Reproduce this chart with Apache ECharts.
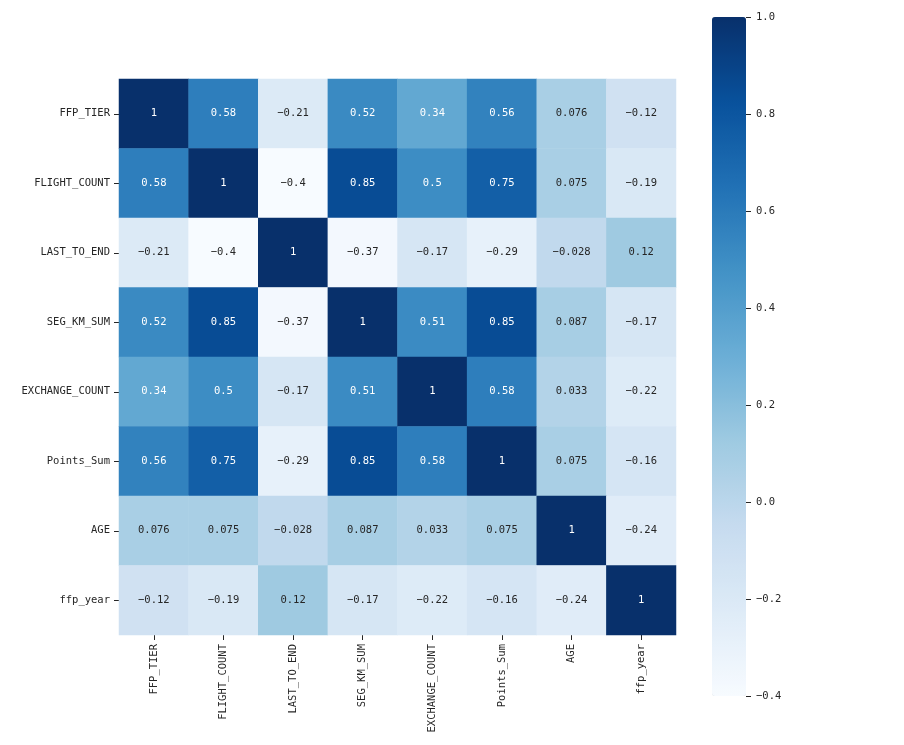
<!DOCTYPE html>
<html>
<head>
<meta charset="utf-8">
<script src="https://cdn.jsdelivr.net/npm/echarts@6/dist/echarts.min.js"></script>
<style>html,body{margin:0;padding:0;background:#fff;}#c{width:904px;height:745px;}</style>
</head>
<body>
<div id="c"></div>
<script>
var categories = ['FFP_TIER','FLIGHT_COUNT','LAST_TO_END','SEG_KM_SUM','EXCHANGE_COUNT','Points_Sum','AGE','ffp_year'];
var rowFFP_TIER      = [1, 0.58, -0.21, 0.52, 0.34, 0.56, 0.076, -0.12];
var rowFLIGHT_COUNT  = [0.58, 1, -0.4, 0.85, 0.5, 0.75, 0.075, -0.19];
var rowLAST_TO_END   = [-0.21, -0.4, 1, -0.37, -0.17, -0.29, -0.028, 0.12];
var rowSEG_KM_SUM    = [0.52, 0.85, -0.37, 1, 0.51, 0.85, 0.087, -0.17];
var rowEXCHANGE      = [0.34, 0.5, -0.17, 0.51, 1, 0.58, 0.033, -0.22];
var rowPoints_Sum    = [0.56, 0.75, -0.29, 0.85, 0.58, 1, 0.075, -0.16];
var rowAGE           = [0.076, 0.075, -0.028, 0.087, 0.033, 0.075, 1, -0.24];
var rowFfp_year      = [-0.12, -0.19, 0.12, -0.17, -0.22, -0.16, -0.24, 1];
var colorbarTicks = [-0.4, -0.2, 0.0, 0.2, 0.4, 0.6, 0.8, 1.0];

var rows = [rowFFP_TIER,rowFLIGHT_COUNT,rowLAST_TO_END,rowSEG_KM_SUM,rowEXCHANGE,rowPoints_Sum,rowAGE,rowFfp_year];
var blues = ['#f7fbff','#deebf7','#c6dbef','#9ecae1','#6baed6','#4292c6','#2171b5','#08519c','#08306b'];
var FONT = 'DejaVu Sans Mono';
function fmt(v){ var s = String(v); return s.replace('-', '\u2212'); }

var data = [];
rows.forEach(function(r, yi){
  r.forEach(function(v, xi){
    data.push({value:[xi, yi, v], label:{color: v >= 0.3 ? '#ffffff' : '#262626'}});
  });
});

var chart = echarts.init(document.getElementById('c'), null, {renderer:'canvas'});
chart.setOption({
  animation:false,
  backgroundColor:'#fff',
  grid:[
    {left:119, top:79, width:557, height:556, containLabel:false},
    {left:712, top:17, width:34, height:679, containLabel:false}
  ],
  xAxis:[
    {type:'category', data:categories, gridIndex:0, position:'bottom',
     axisLine:{show:false}, splitLine:{show:false},
     axisTick:{show:true, alignWithLabel:true, length:5, lineStyle:{color:'#262626'}},
     axisLabel:{rotate:90, fontFamily:FONT, fontSize:10.5, color:'#262626', margin:9}},
    {type:'value', gridIndex:1, show:false, min:0, max:1, axisLine:{onZero:false}}
  ],
  yAxis:[
    {type:'category', data:categories, gridIndex:0, inverse:true,
     axisLine:{show:false}, splitLine:{show:false},
     axisTick:{show:true, alignWithLabel:true, length:5, lineStyle:{color:'#262626'}},
     axisLabel:{fontFamily:FONT, fontSize:10.5, color:'#262626', margin:9}},
    {type:'value', gridIndex:1, position:'right', min:-0.4, max:1.0, interval:0.2, z:20,
     axisLine:{show:false, onZero:false}, splitLine:{show:false},
     axisTick:{show:true, inside:false, length:5, lineStyle:{color:'#262626', width:1}},
     axisLabel:{fontFamily:FONT, fontSize:10.5, color:'#262626', margin:10,
       formatter:function(v){ return fmt(v.toFixed(1)); }}}
  ],
  visualMap:{
    type:'continuous', min:-0.4, max:1.0, calculable:false, seriesIndex:0,
    orient:'vertical', left:712, top:17, itemWidth:34, itemHeight:679, padding:0,
    text:null, showLabel:false, hoverLink:false, z:1,
    inRange:{color:blues}
  },
  series:[
    {type:'heatmap', xAxisIndex:0, yAxisIndex:0, data:data,
     label:{show:true, fontFamily:FONT, fontSize:10.5,
       formatter:function(p){ return fmt(p.value[2]); }},
     itemStyle:{borderWidth:0}},
    {type:'scatter', xAxisIndex:1, yAxisIndex:1, data:[], silent:true}
  ]
});
</script>
</body>
</html>
